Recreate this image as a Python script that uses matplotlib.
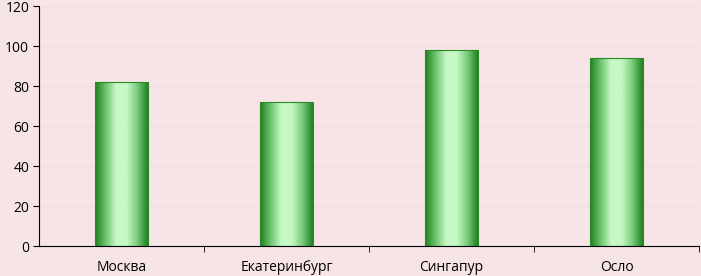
import matplotlib
matplotlib.use("Agg")
import matplotlib.pyplot as plt
import numpy as np
from matplotlib.colors import LinearSegmentedColormap

categories = ["Москва", "Екатеринбург", "Сингапур", "Осло"]
values = [82, 72, 98, 94]
yticks = [0, 20, 40, 60, 80, 100, 120]

plt.rcParams['font.family'] = ['Open Sans', 'DejaVu Sans']
bg = "#F6E4E6"
fig = plt.figure(figsize=(7.01, 2.76), dpi=100, facecolor=bg)
ax = fig.add_axes([39/701, 1-246/276, 660/701, 240/276])
ax.set_facecolor(bg)

x = np.arange(len(categories))
width = 0.32
bars = ax.bar(x, values, width=width, color="none", edgecolor="#2A8A2A", linewidth=0.8, zorder=3)

cmap = LinearSegmentedColormap.from_list("g", ["#1E7F1E", "#6CC46C", "#C6F8C6", "#C6F8C6", "#7ACC7A", "#208020"])
grad = np.linspace(0, 1, 256).reshape(1, -1)
for b in bars:
    x0, y0 = b.get_x(), b.get_y()
    w, h = b.get_width(), b.get_height()
    im = ax.imshow(grad, cmap=cmap, aspect="auto", extent=[x0, x0 + w, y0, y0 + h], zorder=2, interpolation="bicubic")
    im.set_clip_path(b)

ax.set_xlim(-0.5, len(categories) - 0.5)
ax.set_ylim(0, 120)
ax.set_yticks(yticks)
ax.set_xticks(x)
ax.set_xticklabels(categories)
ax.set_xticks(np.arange(len(categories)) + 0.5, minor=True)
ax.tick_params(axis="x", which="major", length=0, pad=10, labelsize=10)
ax.tick_params(axis="x", which="minor", length=4, direction="out")
ax.tick_params(axis="y", length=4, direction="out", labelsize=10, pad=3)
for y in yticks[1:]:
    ax.axhline(y, color="#F0DCDE", linewidth=0.8, zorder=1)
for s in ["top", "right"]:
    ax.spines[s].set_visible(False)
ax.spines["left"].set_color("black")
ax.spines["bottom"].set_color("black")

fig.savefig("out.png", dpi=100, facecolor=bg)
